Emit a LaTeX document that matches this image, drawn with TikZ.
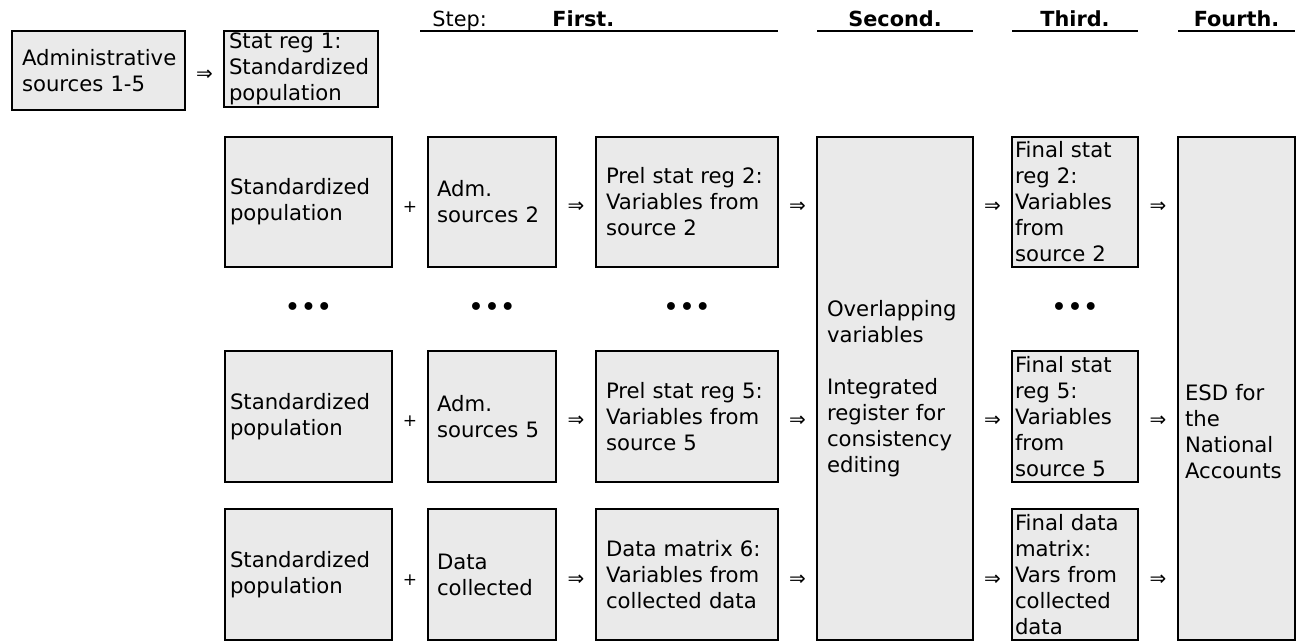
\documentclass[tikz,border=0pt]{standalone}
\usepackage{fontspec}
\setmainfont{DejaVu Sans}
\usetikzlibrary{calc}
\definecolor{boxgray}{HTML}{EAEAEA}
\tikzset{
  box/.style={draw=black, fill=boxgray, line width=1pt, anchor=north west, align=left,
    inner ysep=0pt, outer sep=0pt, font=\fontsize{10.6}{13}\selectfont},
  sym/.style={font=\fontsize{10}{12}\selectfont, inner sep=0pt},
  plus/.style={font=\fontsize{8.5}{10}\selectfont, inner sep=0pt},
  hdr/.style={font=\fontsize{10.4}{12}\selectfont\bfseries, anchor=base, inner sep=0pt},
  hdrl/.style={font=\fontsize{10.4}{12}\selectfont, anchor=base west, inner sep=0pt},
  hline/.style={line width=1pt},
  dotsrow/.style={font=\fontsize{13.5}{14}\selectfont, inner sep=0pt}
}
\newcommand\pbox[7]{%
  \pgfmathsetmacro\myBW{(#4-#2)*0.5}%
  \pgfmathsetmacro\myBH{(#5-#3)*0.5}%
  \pgfmathsetmacro\myTW{(#4-#2-2*#6)*0.5}%
  \pgfmathsetmacro\myPX{#6*0.5}%
  \node[box, minimum width=\myBW pt, minimum height=\myBH pt, text width=\myTW pt, inner xsep=\myPX pt] (#1) at (#2,#3) {#7};}
\begin{document}
\begin{tikzpicture}[x=0.5pt,y=-0.5pt]
\useasboundingbox (0,0) rectangle (1304,643);
% top row
\pbox{admin}{12}{31}{185}{110}{10}{Administrative\\sources 1-5}
\pbox{sr1}{224}{31}{378}{107}{5}{Stat reg 1:\\Standardized\\population}
% row 1
\pbox{std2}{225}{137}{392}{267}{5}{Standardized\\population}
\pbox{adm2}{428}{137}{556}{267}{9}{Adm.\\sources 2}
\pbox{prel2}{596}{137}{778}{267}{10}{Prel stat reg 2:\\Variables from\\source 2}
\pbox{second}{817}{137}{973}{640}{10}{Overlapping\\variables\\[13pt]Integrated\\register for\\consistency\\editing}
\pbox{final2}{1012}{137}{1138}{267}{3}{Final stat\\reg 2:\\Variables\\from\\source 2}
\pbox{fourth}{1178}{137}{1295}{640}{7}{\mbox{}\\[38pt]ESD for\\the\\National\\Accounts}
% row 2
\pbox{std5}{225}{351}{392}{482}{5}{Standardized\\population}
\pbox{adm5}{428}{351}{556}{482}{9}{Adm.\\sources 5}
\pbox{prel5}{596}{351}{778}{482}{10}{Prel stat reg 5:\\Variables from\\source 5}
\pbox{final5}{1012}{351}{1138}{482}{3}{Final stat\\reg 5:\\Variables\\from\\source 5}
% row 3
\pbox{std6}{225}{509}{392}{640}{5}{Standardized\\population}
\pbox{dc6}{428}{509}{556}{640}{9}{Data\\collected}
\pbox{dm6}{596}{509}{778}{640}{10}{Data matrix 6:\\Variables from\\collected data}
\pbox{fdm}{1012}{509}{1138}{640}{3}{Final data\\matrix:\\Vars from\\collected\\data}
% symbols
\node[sym] (s0) at (204.5,75) {⇒};
\foreach \r/\y in {2/207,5/421,6/580}{
  \node[plus] (p\r) at (410,\y) {+};
  \node[sym] (a\r) at (576,\y) {⇒};
  \node[sym] (b\r) at (797.5,\y) {⇒};
  \node[sym] (c\r) at (992.5,\y) {⇒};
  \node[sym] (d\r) at (1158,\y) {⇒};
}
% dots
\node[dotsrow] (dA) at (308.5,310) {•••};
\node[dotsrow] (dB) at (492,310) {•••};
\node[dotsrow] (dC) at (687,310) {•••};
\node[dotsrow] (dD) at (1075,310) {•••};
% header
\coordinate (hy) at (0,31);
\coordinate (hs) at (420,31);
\node[hdrl] (hstep) at (432,26) {Step:};
\node[hdr, anchor=base west] (hfirst) at (552,26) {First.};
\node[hdr] (hsecond) at (895,26) {Second.};
\node[hdr] (hthird) at (1075,26) {Third.};
\node[hdr] (hfourth) at (1236.5,26) {Fourth.};
\draw[hline] (hs) -- (prel2.east |- hy);
\draw[hline] (second.west |- hy) -- (second.east |- hy);
\draw[hline] (final2.west |- hy) -- (final2.east |- hy);
\draw[hline] (fourth.west |- hy) -- (fourth.east |- hy);
\end{tikzpicture}
\end{document}
